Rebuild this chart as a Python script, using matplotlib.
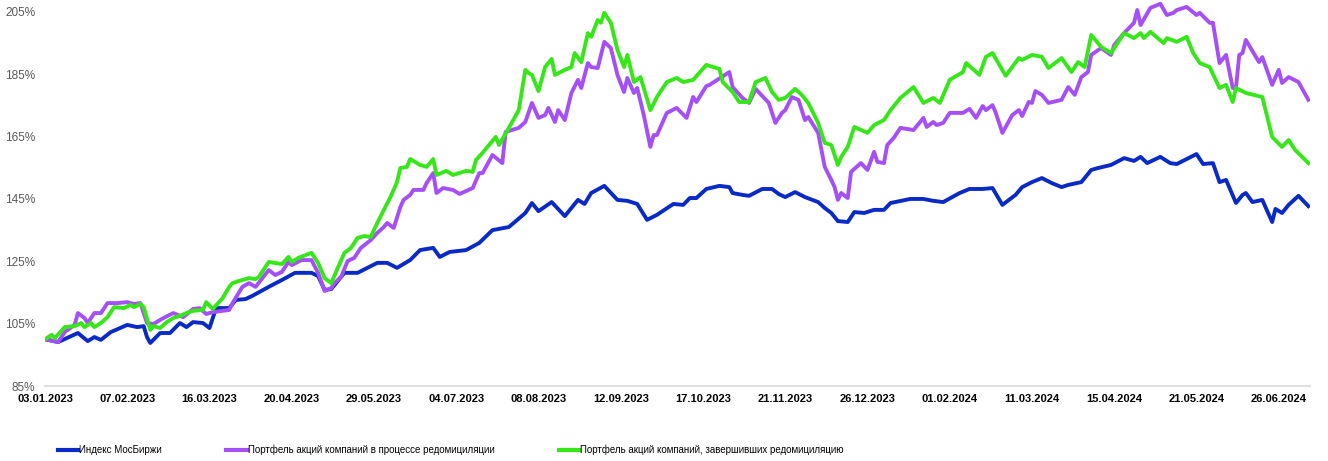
import matplotlib.pyplot as plt
from matplotlib.lines import Line2D

plt.rcParams["font.family"] = ["Liberation Sans", "DejaVu Sans"]

# trading-day index of every 25th session, used as category labels
tick_days = list(range(0, 376, 25))
tick_labels = ["03.01.2023", "07.02.2023", "16.03.2023", "20.04.2023", "29.05.2023",
               "04.07.2023", "08.08.2023", "12.09.2023", "17.10.2023", "21.11.2023",
               "26.12.2023", "01.02.2024", "11.03.2024", "15.04.2024", "21.05.2024",
               "26.06.2024"]

# Индекс МосБиржи
imoex_days = [0, 4, 10, 13, 15, 17, 20, 25, 28, 30, 31, 32, 35, 38, 41, 43, 45, 48, 50, 52,
              56, 58, 61, 63, 68, 72, 76, 81, 83, 85, 87, 91, 95, 101, 104, 107, 111, 114, 118, 120,
              123, 128, 132, 136, 141, 146, 148, 150, 154, 158, 162, 164, 166, 170, 174, 177, 180, 183, 186, 191,
              194, 196, 198, 201, 205, 208, 209, 212, 214, 218, 221, 223, 225, 228, 231, 235, 237, 239, 241, 244,
              246, 249, 252, 255, 257, 263, 267, 270, 273, 278, 281, 285, 288, 291, 295, 297, 300, 303, 306, 309,
              311, 315, 318, 320, 324, 328, 331, 333, 335, 339, 342, 344, 347, 350, 352, 355, 357, 359, 362, 364,
              365, 367, 370, 373, 374, 376, 378, 381, 384]
imoex_vals = [100.0, 99.1, 102.0, 99.4, 100.7, 99.8, 102.3, 104.6, 103.9, 104.2, 100.7, 98.8, 102.0, 102.0, 105.2, 103.9, 105.5, 105.2, 103.6, 110.0,
              110.0, 112.6, 112.9, 113.9, 116.8, 119.0, 121.3, 121.3, 120.3, 115.8, 116.1, 121.3, 121.3, 124.5, 124.5, 122.9, 125.4, 128.6, 129.3, 126.4,
              128.0, 128.6, 130.9, 135.0, 136.0, 140.5, 143.7, 141.1, 144.0, 139.5, 144.7, 143.4, 146.9, 149.2, 144.7, 144.4, 143.4, 138.3, 139.9, 143.4,
              143.1, 145.3, 145.3, 148.2, 149.2, 148.8, 146.9, 146.3, 146.0, 148.2, 148.2, 146.6, 145.6, 147.2, 145.6, 144.0, 142.1, 140.5, 137.9, 137.6,
              140.8, 140.5, 141.5, 141.5, 143.7, 145.0, 145.0, 144.4, 144.0, 146.9, 148.2, 148.2, 148.5, 143.1, 146.3, 148.8, 150.4, 151.7, 150.1, 148.8,
              149.5, 150.4, 154.3, 154.9, 155.9, 158.1, 157.2, 158.5, 156.5, 158.5, 156.5, 156.2, 157.8, 159.4, 156.2, 156.5, 150.4, 151.1, 143.7, 146.3,
              146.9, 144.0, 144.7, 137.6, 141.8, 140.5, 143.1, 146.0, 142.7]

# Портфель акций компаний в процессе редомициляции
process_days = [0, 4, 6, 9, 10, 12, 13, 15, 17, 19, 22, 25, 27, 29, 31, 33, 35, 36, 39, 42,
                45, 47, 49, 51, 56, 57, 60, 62, 64, 68, 70, 72, 74, 75, 78, 81, 83, 85, 87, 88,
                90, 92, 94, 96, 99, 101, 103, 104, 106, 108, 109, 111, 112, 115, 116, 118, 119, 121, 124, 126,
                130, 132, 133, 136, 139, 140, 144, 146, 148, 150, 152, 153, 155, 156, 158, 160, 162, 163, 165, 166,
                168, 170, 172, 174, 176, 177, 179, 180, 182, 184, 185, 186, 189, 192, 195, 197, 198, 201, 202, 208,
                209, 212, 214, 216, 220, 222, 224, 225, 227, 229, 231, 232, 235, 237, 239, 240, 241, 242, 244, 245,
                248, 250, 252, 253, 255, 256, 258, 260, 264, 267, 268, 270, 271, 273, 275, 279, 281, 283, 285, 286,
                288, 289, 291, 294, 296, 297, 299, 300, 301, 303, 305, 309, 311, 313, 315, 317, 318, 321, 324, 325,
                328, 331, 332, 333, 336, 339, 341, 343, 344, 347, 350, 351, 354, 355, 357, 359, 361, 362, 363, 364,
                365, 369, 370, 373, 375, 376, 378, 381, 384]
process_vals = [100.0, 99.1, 102.3, 104.6, 108.4, 106.8, 105.2, 108.4, 108.4, 111.6, 111.6, 111.9, 111.3, 111.6, 105.2, 104.9, 106.2, 106.8, 108.4, 107.1,
                109.7, 110.0, 108.1, 108.7, 109.4, 111.6, 116.8, 118.0, 116.8, 122.2, 120.6, 121.6, 124.8, 123.8, 125.4, 125.4, 121.3, 115.5, 116.4, 118.0,
                120.0, 125.1, 126.1, 129.3, 131.8, 134.1, 136.0, 137.3, 135.7, 142.4, 144.7, 146.3, 147.9, 147.9, 150.1, 153.3, 146.9, 148.5, 147.9, 146.6,
                148.5, 153.3, 153.3, 159.1, 156.5, 166.5, 167.8, 169.7, 175.8, 171.0, 171.9, 174.2, 169.7, 173.5, 170.3, 179.0, 183.2, 180.6, 188.6, 187.3,
                187.0, 195.4, 193.4, 184.8, 179.3, 183.8, 179.0, 180.6, 171.9, 161.7, 165.5, 165.5, 172.6, 174.2, 171.0, 177.7, 176.1, 181.2, 181.6, 185.7,
                180.9, 177.4, 175.8, 180.3, 175.8, 169.4, 172.6, 173.5, 177.7, 176.8, 170.3, 171.3, 166.2, 155.3, 151.1, 148.8, 144.7, 146.9, 145.3, 153.7,
                156.5, 154.3, 160.1, 156.9, 156.5, 162.3, 164.6, 167.8, 167.1, 171.0, 168.1, 169.7, 168.7, 169.4, 172.6, 172.6, 173.9, 171.0, 174.8, 173.5,
                175.1, 172.6, 166.2, 171.9, 173.5, 171.6, 176.1, 175.8, 179.6, 178.4, 175.8, 176.8, 180.9, 178.4, 184.1, 185.7, 191.2, 193.4, 191.2, 194.4,
                198.2, 201.5, 205.6, 200.8, 206.3, 207.6, 204.0, 204.7, 205.6, 206.6, 204.0, 204.7, 201.5, 201.5, 188.6, 191.2, 180.6, 180.6, 191.2, 191.8,
                196.0, 188.9, 190.5, 181.6, 186.4, 182.2, 184.1, 182.5, 176.8]

# Портфель акций компаний, завершивших редомициляцию
done_days = [0, 2, 3, 6, 9, 11, 12, 14, 15, 17, 19, 21, 24, 26, 27, 29, 30, 32, 33, 35,
             37, 39, 41, 43, 45, 48, 49, 51, 54, 56, 57, 59, 62, 64, 65, 68, 72, 74, 75, 77,
             81, 83, 85, 87, 89, 91, 93, 95, 97, 99, 101, 103, 105, 107, 108, 110, 111, 114, 116, 118,
             119, 122, 124, 128, 130, 131, 133, 137, 138, 141, 144, 146, 147, 148, 150, 152, 154, 155, 158, 160,
             161, 163, 165, 166, 168, 169, 170, 172, 174, 176, 177, 179, 181, 184, 186, 189, 192, 194, 197, 201,
             205, 206, 209, 211, 214, 216, 219, 221, 223, 225, 228, 230, 232, 235, 237, 239, 241, 242, 244, 246,
             250, 252, 255, 257, 260, 264, 267, 270, 272, 275, 279, 280, 284, 286, 288, 292, 296, 297, 300, 303,
             305, 309, 312, 314, 316, 318, 321, 324, 328, 331, 333, 334, 336, 340, 341, 344, 347, 349, 350, 351,
             354, 357, 359, 361, 362, 365, 370, 373, 376, 378, 380, 384]
done_vals = [100.0, 101.4, 100.4, 103.9, 104.2, 105.2, 103.9, 105.2, 103.9, 105.2, 107.1, 110.3, 110.0, 111.0, 110.3, 111.3, 110.3, 103.0, 104.2, 103.6,
             105.5, 106.8, 107.5, 108.4, 109.1, 109.4, 111.9, 109.7, 113.2, 116.8, 118.0, 118.7, 119.6, 119.3, 120.0, 124.8, 124.1, 126.4, 124.8, 126.1,
             127.7, 124.5, 119.6, 118.0, 122.9, 127.7, 129.3, 132.5, 133.1, 132.8, 137.3, 141.5, 145.6, 150.4, 154.9, 155.3, 157.8, 155.9, 155.3, 157.8,
             152.7, 154.0, 152.7, 154.0, 153.7, 157.5, 159.8, 164.9, 162.3, 167.8, 173.5, 186.4, 185.4, 184.8, 179.6, 187.3, 189.9, 184.8, 186.4, 187.3,
             191.8, 188.9, 198.2, 197.0, 202.4, 201.5, 204.7, 201.5, 192.8, 187.3, 191.2, 182.5, 184.1, 173.5, 177.7, 182.5, 183.8, 182.5, 183.2, 188.0,
             186.7, 182.5, 179.3, 176.1, 176.1, 182.5, 183.8, 179.3, 176.8, 177.4, 180.3, 178.4, 175.8, 169.4, 163.0, 162.3, 155.9, 158.5, 161.7, 168.1,
             166.2, 168.7, 170.3, 173.5, 177.4, 180.9, 175.8, 177.4, 175.8, 183.2, 185.7, 188.6, 184.8, 190.6, 191.8, 184.5, 190.2, 189.6, 191.2, 190.6,
             187.0, 190.2, 185.7, 188.9, 187.3, 197.6, 193.8, 191.8, 198.2, 196.6, 198.2, 196.6, 198.6, 195.0, 196.6, 195.4, 197.0, 191.8, 190.2, 188.6,
             187.3, 180.6, 181.6, 176.1, 180.6, 179.0, 177.7, 164.9, 161.7, 163.9, 160.7, 156.5]

series = [
    ("Индекс МосБиржи", imoex_days, imoex_vals, "#0a2ac6"),
    ("Портфель акций компаний в процессе редомициляции", process_days, process_vals, "#a550f7"),
    ("Портфель акций компаний, завершивших редомициляцию", done_days, done_vals, "#36e619"),
]

W, H = 1328, 461
fig = plt.figure(figsize=(W / 100, H / 100), dpi=100)
ax = fig.add_axes([45 / W, 75 / H, 1265 / W, 385 / H])

for name, d, v, c in series:
    ax.plot(d, v, color=c, lw=2.8, solid_joinstyle="round", label=name)

ax.set_xlim(0, 384.5)
ax.set_ylim(85, 208.5)

yt = list(range(85, 206, 20))
ax.set_yticks(yt)
ax.set_yticklabels([f"{t}%" for t in yt])
ax.tick_params(axis="y", length=0, pad=7, labelcolor="#595959", labelsize=8.5)

ax.set_xticks(tick_days)
ax.set_xticklabels(tick_labels, fontweight="bold")
ax.tick_params(axis="x", length=0, pad=6, labelsize=8, labelcolor="black")

for s in ["top", "right", "left"]:
    ax.spines[s].set_visible(False)
ax.spines["bottom"].set_color("#d9d9d9")
ax.spines["bottom"].set_linewidth(1.2)

handles = [Line2D([], [], color=c, lw=3) for _, _, _, c in series]
fig.legend(handles, [s[0] for s in series], loc="center left",
           bbox_to_anchor=(58 / W, 11 / H), ncol=3, frameon=False,
           fontsize=7.0, handlelength=2.1, handletextpad=0.1,
           columnspacing=6.6, borderpad=0, borderaxespad=0)

fig.savefig("out.png", dpi=100)
